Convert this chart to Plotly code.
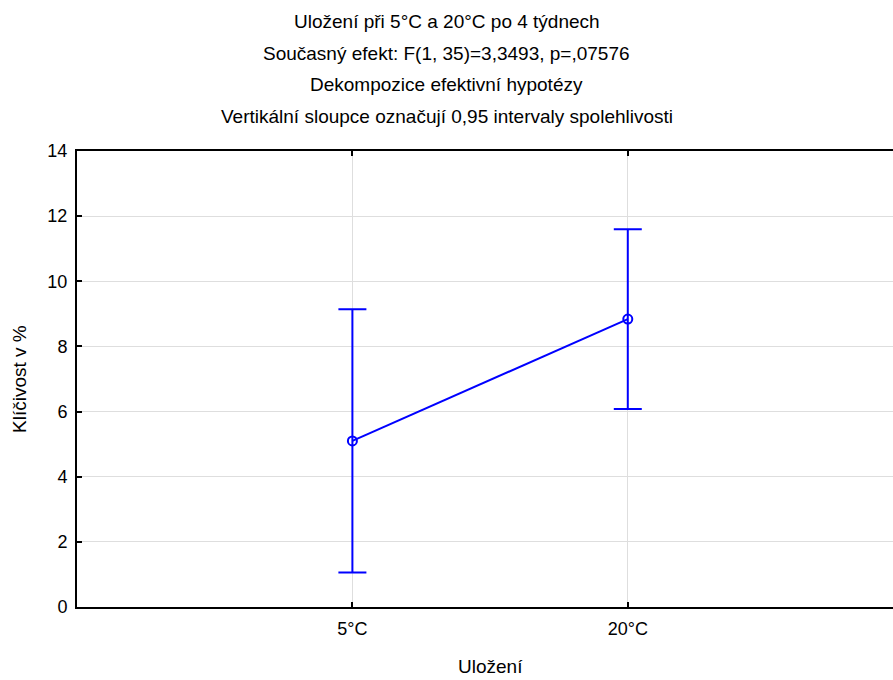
import plotly.graph_objects as go

categories = ["5°C", "20°C"]
means = [5.10, 8.84]
ci_half = [4.04, 2.76]
y_ticks = [0, 2, 4, 6, 8, 10, 12, 14]

title_lines = [
    "Uložení při 5°C a 20°C po 4 týdnech",
    "Současný efekt: F(1, 35)=3,3493, p=,07576",
    "Dekompozice efektivní hypotézy",
    "Vertikální sloupce označují 0,95 intervaly spolehlivosti",
]
x_title = "Uložení"
y_title = "Klíčivost v %"

W, H = 893, 680
ML, MR, MT, MB = 77, 0, 151, 73
FONT = "Liberation Sans, Arial, sans-serif"
FS_TITLE = 19
FS = 18
BLUE = "rgb(0,0,255)"

fig = go.Figure()
fig.add_trace(go.Scatter(
    x=list(range(len(categories))),
    y=means,
    mode="lines+markers",
    line=dict(color=BLUE, width=2),
    marker=dict(symbol="circle-open", size=9, color=BLUE, line=dict(width=2, color=BLUE)),
    error_y=dict(type="data", array=ci_half, visible=True, color=BLUE, thickness=2, width=14),
    showlegend=False,
))

plot_w = W - ML - MR
plot_h = H - MT - MB
annotations = []
title_y = [22, 53, 85, 116]
for t, yp in zip(title_lines, title_y):
    annotations.append(dict(
        text=t, xref="paper", yref="paper",
        x=(W / 2 - ML) / plot_w, y=1 + (MT - yp) / plot_h,
        xanchor="center", yanchor="middle", showarrow=False,
        font=dict(family=FONT, size=FS_TITLE, color="black"),
    ))
annotations.append(dict(
    text=x_title, xref="paper", yref="paper",
    x=(490 - ML) / plot_w, y=-(666 - (H - MB)) / plot_h,
    xanchor="center", yanchor="middle", showarrow=False,
    font=dict(family=FONT, size=FS_TITLE, color="black"),
))
annotations.append(dict(
    text=y_title, xref="paper", yref="paper",
    x=-(ML - 19) / plot_w, y=0.5, textangle=-90,
    xanchor="center", yanchor="middle", showarrow=False,
    font=dict(family=FONT, size=FS_TITLE, color="black"),
))

fig.update_layout(
    width=W, height=H,
    margin=dict(l=ML, r=MR, t=MT, b=MB, pad=0),
    paper_bgcolor="white", plot_bgcolor="white",
    font=dict(family=FONT, size=FS, color="black"),
    annotations=annotations,
    xaxis=dict(
        range=[-1, 1.963],
        tickmode="array", tickvals=list(range(len(categories))), ticktext=categories,
        ticks="inside", ticklen=5, tickwidth=2, tickcolor="black",
        showline=True, linecolor="black", linewidth=2, mirror="ticks",
        showgrid=True, gridcolor="#dedede", gridwidth=1,
        zeroline=False,
        ticklabelstandoff=4,
        tickfont=dict(family=FONT, size=FS, color="black"),
    ),
    yaxis=dict(
        range=[0, 14],
        tickmode="array", tickvals=y_ticks,
        ticks="inside", ticklen=5, tickwidth=2, tickcolor="black",
        showline=True, linecolor="black", linewidth=2,
        showgrid=True, gridcolor="#dedede", gridwidth=1,
        zeroline=False,
        ticklabelstandoff=4,
        tickfont=dict(family=FONT, size=FS, color="black"),
    ),
)

fig.write_html(
    "out.html",
    config={"displayModeBar": False},
    post_script="document.body.style.margin='0';document.body.style.overflow='hidden';",
)
